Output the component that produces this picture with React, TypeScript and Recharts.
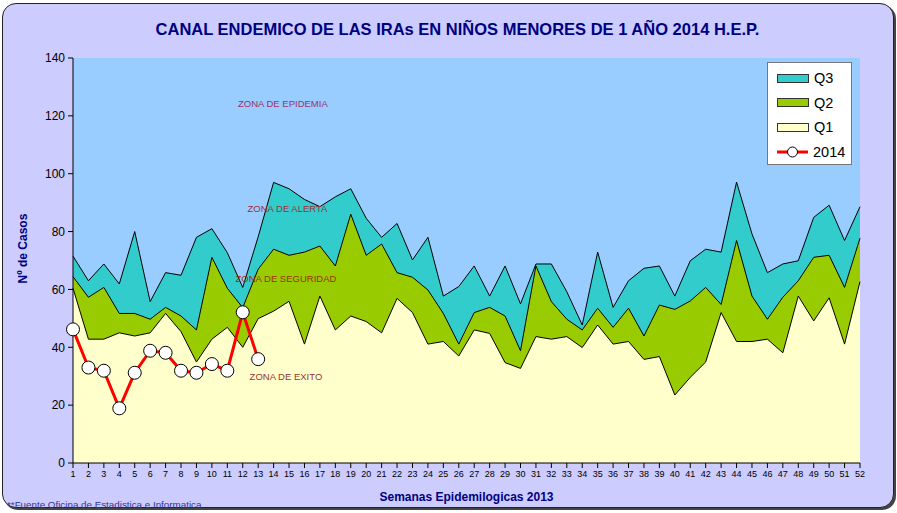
import React from 'react'
import {
  ComposedChart,
  Area,
  Line,
  XAxis,
  YAxis,
  CartesianGrid,
  ReferenceDot,
} from 'recharts'

const weeks = [
  1, 2, 3, 4, 5, 6, 7, 8, 9, 10, 11, 12, 13, 14, 15, 16, 17, 18, 19, 20, 21, 22, 23, 24, 25, 26,
  27, 28, 29, 30, 31, 32, 33, 34, 35, 36, 37, 38, 39, 40, 41, 42, 43, 44, 45, 46, 47, 48, 49, 50, 51, 52,
]

const q1 = [
  60.4, 42.8, 42.8, 45, 43.9, 45, 51.7, 45.4, 34.9, 42.8, 46.9, 40, 49.9, 52.5, 55.9, 41.1, 57.7, 46,
  50.8, 48.9, 45, 56.9, 52, 41.1, 42, 37, 46, 44.8, 34.7, 32.7, 43.7, 42.8, 43.7, 39.9, 47.7, 41.1, 42,
  35.8, 36.8, 23.5, 29.6, 34.9, 52, 42, 42, 42.8, 38.1, 57.7, 49.1, 57.1, 41.1, 62.7,
]

const q2 = [
  64.4, 57.3, 60.7, 51.7, 51.7, 49.7, 53.8, 50.8, 46, 71.1, 60.4, 53.7, 67, 73.9, 71.8, 72.9, 75, 68.1,
  86, 71.8, 75.7, 65.8, 64.2, 59.8, 51.7, 41.1, 52, 53.8, 50.8, 38.8, 68.1, 55.8, 49.7, 46, 53.5, 46.9,
  53.5, 43.9, 54.6, 53.1, 56, 60.7, 54.8, 76.9, 57.7, 49.7, 57.3, 63, 71.1, 71.8, 60.7, 77.7,
]

const q3 = [
  71.5, 63, 68.8, 61.9, 80, 55.8, 65.8, 64.9, 78, 81, 72.7, 60.7, 78.2, 97, 94.8, 91.1, 88.6, 92, 94.8,
  84.6, 78, 82.8, 70.2, 78, 57.7, 61, 68.1, 57.7, 68.1, 55, 68.8, 68.8, 59.2, 47.7, 72.9, 53.8, 63, 67.3,
  68.1, 57.7, 69.9, 73.9, 72.9, 97.1, 79.2, 65.8, 68.8, 69.9, 84.9, 89.1, 76.9, 88.6,
]

const cases2014 = [46.2, 33, 31.9, 18.9, 31.2, 38.8, 38.1, 31.9, 31.2, 34.2, 31.9, 52.1, 35.9]

const yTicks = [0, 20, 40, 60, 80, 100, 120, 140]

const zones = [
  { label: 'ZONA DE EPIDEMIA', week: 14.6, value: 124.4, color: '#993366' },
  { label: 'ZONA DE ALERTA', week: 14.9, value: 88.1, color: '#993333' },
  { label: 'ZONA DE SEGURIDAD', week: 14.8, value: 63.9, color: '#993300' },
  { label: 'ZONA DE EXITO', week: 14.8, value: 29.7, color: '#993333' },
]

const data = weeks.map((w, i) => ({
  week: w,
  q1: q1[i],
  q2: q2[i],
  q3: q3[i],
  y2014: i < cases2014.length ? cases2014[i] : null,
}))

const FONT = '"Liberation Sans", Arial, sans-serif'
const NAVY = '#000080'

const legendItems = [
  { name: 'Q3', color: '#33CCCC' },
  { name: 'Q2', color: '#99CC00' },
  { name: 'Q1', color: '#FFFFCC' },
]

function ChartLegend() {
  return (
    <div
      style={{
        position: 'absolute',
        left: 767,
        top: 62,
        width: 85,
        height: 103,
        background: '#fff',
        border: '1px solid #777',
        fontSize: 14.5,
        color: '#000',
        boxSizing: 'border-box',
        paddingTop: 3,
      }}
    >
      {legendItems.map((it) => (
        <div key={it.name} style={{ display: 'flex', alignItems: 'center', height: 24.5, marginLeft: 9 }}>
          <div style={{ width: 30, height: 7, background: it.color, border: '1px solid #333', marginRight: 5 }} />
          <span>{it.name}</span>
        </div>
      ))}
      <div style={{ display: 'flex', alignItems: 'center', height: 24.5, marginLeft: 9 }}>
        <svg width={32} height={14} style={{ marginRight: 4 }}>
          <line x1={0} y1={7} x2={31} y2={7} stroke="#FF0000" strokeWidth={3} />
          <circle cx={15.5} cy={7} r={5} fill="#fff" stroke="#000" strokeWidth={1} />
        </svg>
        <span>2014</span>
      </div>
    </div>
  )
}

export default function App() {
  return (
    <div style={{ position: 'absolute', left: 0, top: 0, width: 897, height: 513, fontFamily: FONT }}>
      <div
        style={{
          position: 'absolute',
          left: 2,
          top: 3,
          width: 890,
          height: 503,
          background: '#CCCCFF',
          border: '1px solid #222',
          borderRadius: 14,
          boxShadow: '2px 2px 0 #444',
        }}
      />
      <div
        style={{
          position: 'absolute',
          left: 0,
          top: 20,
          width: 915,
          textAlign: 'center',
          fontSize: 16.5,
          fontWeight: 'bold',
          color: NAVY,
        }}
      >
        CANAL ENDEMICO DE LAS IRAs EN NIÑOS MENORES DE 1 AÑO 2014 H.E.P.
      </div>
      <div style={{ position: 'absolute', left: 0, top: 0 }}>
        <ComposedChart width={897} height={513} data={data} margin={{ top: 58, right: 37, left: 0, bottom: 0 }}>
          <CartesianGrid horizontal={false} vertical={false} fill="#99CCFF" />
          <XAxis
            dataKey="week"
            type="number"
            domain={[1, 52]}
            ticks={weeks}
            interval={0}
            height={50}
            tick={{ fontSize: 9, fill: '#000', fontFamily: FONT }}
            tickSize={5}
            tickMargin={3}
            axisLine={{ stroke: '#000' }}
            tickLine={{ stroke: '#000' }}
          />
          <XAxis
            xAxisId="top"
            orientation="top"
            type="number"
            domain={[1, 52]}
            height={0}
            tick={false}
            tickLine={false}
            axisLine={{ stroke: '#333' }}
          />
          <YAxis
            domain={[0, 140]}
            ticks={yTicks}
            width={73}
            tick={{ fontSize: 12, fill: '#000', fontFamily: FONT }}
            tickSize={5}
            tickMargin={3}
            axisLine={{ stroke: '#000' }}
            tickLine={{ stroke: '#000' }}
          />
          <YAxis
            yAxisId="right"
            orientation="right"
            domain={[0, 140]}
            width={0}
            tick={false}
            tickLine={false}
            axisLine={{ stroke: '#333' }}
          />
          <Area
            type="linear"
            dataKey="q3"
            fill="#33CCCC"
            fillOpacity={1}
            stroke="#000"
            strokeWidth={1}
            isAnimationActive={false}
          />
          <Area
            type="linear"
            dataKey="q2"
            fill="#99CC00"
            fillOpacity={1}
            stroke="#000"
            strokeWidth={1}
            isAnimationActive={false}
          />
          <Area
            type="linear"
            dataKey="q1"
            fill="#FFFFCC"
            fillOpacity={1}
            stroke="#000"
            strokeWidth={1}
            isAnimationActive={false}
          />
          {zones.map((z) => (
            <ReferenceDot
              key={z.label}
              x={z.week}
              y={z.value}
              r={0}
              fill="none"
              stroke="none"
              label={{ value: z.label, position: 'center', fill: z.color, fontSize: 9.5, fontFamily: FONT }}
            />
          ))}
          <Line
            type="linear"
            dataKey="y2014"
            stroke="#FF0000"
            strokeWidth={3}
            dot={{ r: 6.5, fill: '#fff', stroke: '#000', strokeWidth: 1 }}
            connectNulls={false}
            isAnimationActive={false}
          />
        </ComposedChart>
      </div>
      <ChartLegend />
      <div
        style={{
          position: 'absolute',
          left: 8,
          top: 252,
          width: 24,
          height: 0,
          display: 'flex',
          justifyContent: 'center',
        }}
      >
        <div
          style={{
            transform: 'rotate(-90deg)',
            whiteSpace: 'nowrap',
            fontSize: 12,
            fontWeight: 'bold',
            color: NAVY,
            lineHeight: '14px',
            marginTop: -7,
          }}
        >
          Nº de Casos
        </div>
      </div>
      <div
        style={{
          position: 'absolute',
          left: 73,
          top: 490,
          width: 787,
          textAlign: 'center',
          fontSize: 12,
          fontWeight: 'bold',
          color: NAVY,
        }}
      >
        Semanas Epidemilogicas 2013
      </div>
      <div style={{ position: 'absolute', left: 7, top: 499, fontSize: 9.8, color: '#333399' }}>
        **Fuente Oficina de Estadistica e Informatica
      </div>
    </div>
  )
}
